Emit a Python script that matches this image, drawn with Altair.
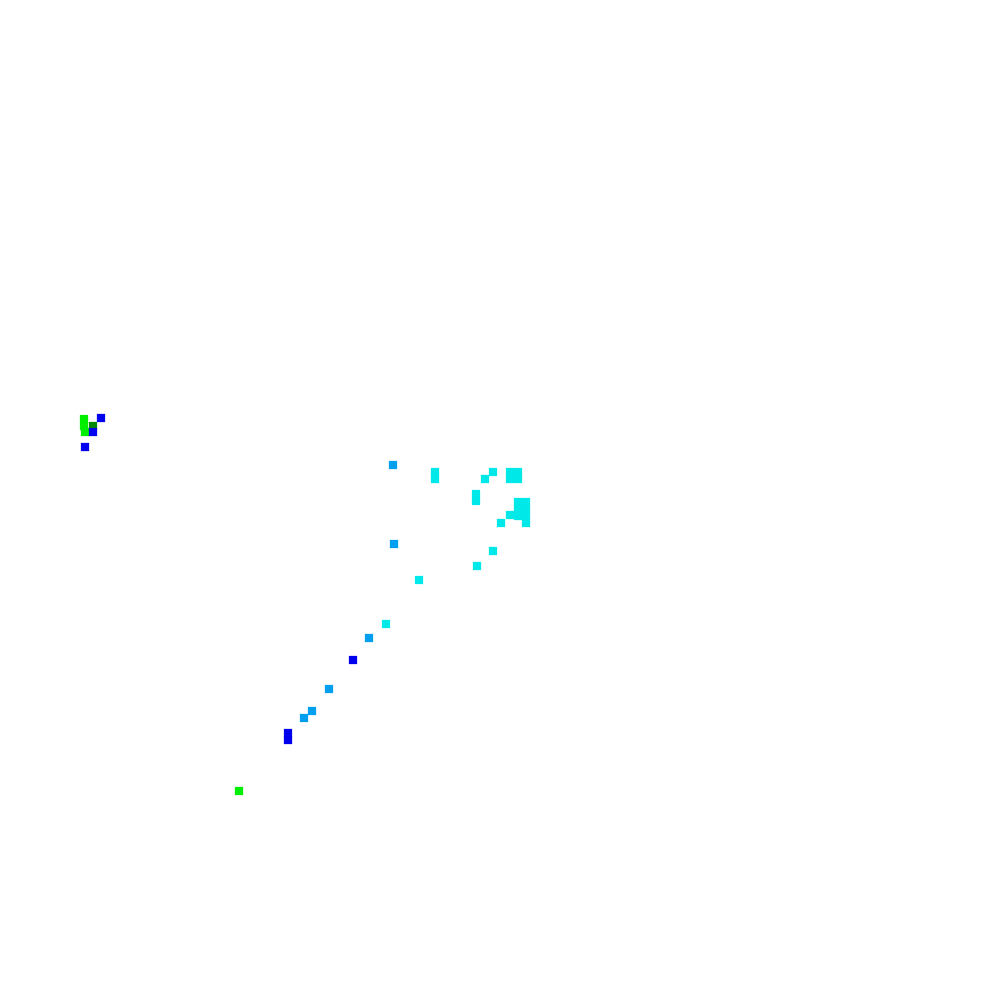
import altair as alt
import pandas as pd

# Point positions (in page-pixel units) and category
xs = [84, 84, 85, 101, 93, 93, 85,
      393, 435, 435, 493, 485, 510, 518, 510, 518, 476, 476,
      518, 526, 518, 526, 518, 526, 510, 526, 501,
      394, 493, 477, 419,
      386, 369, 353, 329, 312, 304, 288, 288, 239]
ys = [419, 426, 432, 418, 426, 432, 447,
      465, 472, 479, 472, 479, 472, 472, 479, 479, 494, 501,
      502, 502, 509, 509, 516, 516, 515, 523, 523,
      544, 551, 566, 580,
      624, 638, 660, 689, 711, 718, 733, 740, 791]
groups = ["g", "g", "g", "b", "d", "b", "b",
          "l", "c", "c", "c", "c", "c", "c", "c", "c", "c", "c",
          "c", "c", "c", "c", "c", "c", "c", "c", "c",
          "l", "c", "c", "c",
          "c", "l", "b", "l", "l", "l", "b", "b", "g"]

cat_domain = ["g", "d", "b", "l", "c"]
cat_colors = ["#00ee00", "#008800", "#0000ee", "#009ff0", "#00e8e8"]

df = pd.DataFrame({"x": xs, "y": ys, "group": groups})

chart = alt.Chart(df).mark_square(size=68, opacity=1, strokeWidth=0).encode(
    x=alt.X("x:Q", scale=alt.Scale(domain=[8, 992], nice=False, zero=False), axis=None),
    y=alt.Y("y:Q", scale=alt.Scale(domain=[8, 992], nice=False, zero=False, reverse=True), axis=None),
    color=alt.Color("group:N", scale=alt.Scale(domain=cat_domain, range=cat_colors), legend=None),
).properties(
    width=984, height=984, padding=0, autosize=alt.AutoSizeParams(type="none")
).configure_view(stroke=None)

chart.save("out.html", embed_options={"renderer": "svg", "actions": False})
